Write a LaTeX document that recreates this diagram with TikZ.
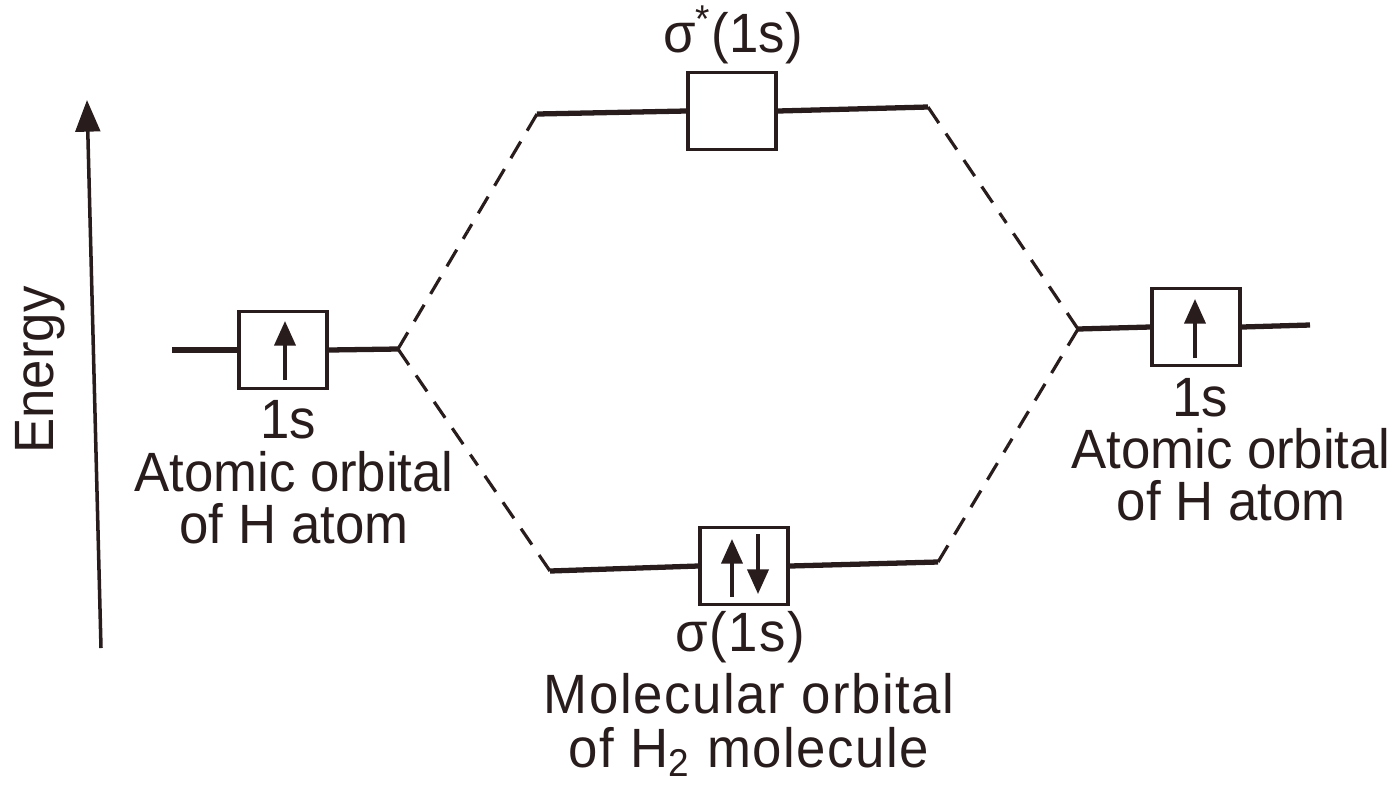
\documentclass[tikz,border=0pt]{standalone}
\usepackage{fontspec}
\setmainfont{Liberation Sans}
\usetikzlibrary{arrows.meta,calc}
\definecolor{ink}{RGB}{40,28,28}
\newcommand{\tx}[1]{\scalebox{1}[1.05]{#1}}
\begin{document}
\begin{tikzpicture}[x=0.01cm,y=-0.01cm,
  every node/.style={text=ink},
  orb/.style={draw=ink,line width=1pt,minimum width=0.88cm,minimum height=0.77cm,inner sep=0pt},
  level/.style={draw=ink,line width=1.5pt},
  corr/.style={draw=ink,line width=0.9pt,dash pattern=on 5.5pt off 3.6pt},
  spin/.style={draw=ink,line width=1pt,-{Triangle[length=7pt,width=6pt]}},
  lbl/.style={font=\fontsize{15}{14.6}\selectfont,align=center,inner sep=0pt},
  blbl/.style={font=\fontsize{15}{15.2}\selectfont\addfontfeatures{LetterSpace=3},align=center,inner sep=0pt}]
\useasboundingbox (0,0) rectangle (1399,793);

% energy axis
\coordinate (eb) at (101,648);
\coordinate (et) at (87,100);
\draw[draw=ink,line width=1pt,-{Triangle[length=9pt,width=7pt]}] (eb) -- (et);
\node[lbl,rotate=90] (energy) at (40,370) {\tx{Energy}};

% left atomic orbital
\node[orb] (boxL) at (283,350) {};
\coordinate (lL) at (172,350);
\coordinate (lR) at (398,349);
\draw[level] (lL) -- (boxL.west);
\draw[level] (boxL.east) -- (lR);
\draw[spin] ($(boxL)+(2,30)$) -- ($(boxL)+(2,-29)$);
\node[lbl,anchor=base] (l1s) at (288,438) {\tx{1s}};
\node[lbl,anchor=north] (l2) at (294,451) {\tx{Atomic orbital}\\\tx{of H atom}};

% right atomic orbital
\node[orb] (boxR) at (1196,327) {};
\coordinate (rL) at (1078,329);
\coordinate (rR) at (1310,325);
\draw[level] (rL) -- (boxR.west);
\draw[level] (boxR.east) -- (rR);
\draw[spin] ($(boxR)+(-1,31)$) -- ($(boxR)+(-1,-28)$);
\node[lbl,anchor=base] (r1s) at (1200,416) {\tx{1s}};
\node[lbl,anchor=north] (r2) at (1231,428) {\tx{Atomic orbital}\\\tx{of H atom}};

% antibonding
\node[orb] (boxT) at (732,111) {};
\coordinate (tL) at (537,114);
\coordinate (tR) at (928,107);
\draw[level] (tL) -- (boxT.west);
\draw[level] (boxT.east) -- (tR);
\node[lbl,anchor=base] (tlab) at (733,52) {\tx{σ\textsuperscript{*}(1s)}};

% bonding
\node[orb] (boxB) at (744,566) {};
\coordinate (bL) at (550,571);
\coordinate (bR) at (938,562);
\draw[level] (bL) -- (boxB.west);
\draw[level] (boxB.east) -- (bR);
\draw[spin] ($(boxB)+(-12,31)$) -- ($(boxB)+(-12,-27)$);
\draw[spin] ($(boxB)+(14,-32)$) -- ($(boxB)+(14,28)$);
\node[blbl,anchor=base] (b1) at (740,651) {\tx{σ(1s)}};
\node[blbl,anchor=north] (b2) at (749,673) {\tx{Molecular orbital}\\\tx{of H\textsubscript{2} molecule}};

% correlation lines (dashed from both ends)
\foreach \a/\b in {lR/tL, lR/bL, rL/tR, rL/bR}{
  \draw[corr] (\a) -- ($(\a)!0.5!(\b)$);
  \draw[corr] (\b) -- ($(\a)!0.5!(\b)$);
}
\end{tikzpicture}
\end{document}
